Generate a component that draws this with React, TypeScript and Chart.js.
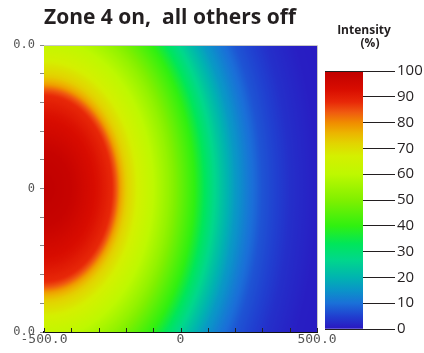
import React, { useEffect, useRef } from "react";
import { Chart, registerables } from "chart.js";

Chart.register(...registerables);

// ---------- text ----------
const chartTitle = "Zone 4 on,  all others off";
const colorbarTitle = ["Intensity", "(%)"];

// ---------- axes ----------
const xRange = [-500, 500];
const yRange = [-500, 500];
const gridValues = [-500, -400, -300, -200, -100, 0, 100, 200, 300, 400, 500];
const xTickValues = [-500, 0, 500];
const xTickText = ["-500.0", "0", "500.0"];
const yTickValues = [-500, 0, 500];
const yTickText = ["-500.0", "0", "500.0"];

// ---------- field: intensity vs distance from the source (zone 4) ----------
const sourceX = -500;
const sourceY = 0;
const profileDistance = [0, 100, 150, 200, 250, 265, 280, 300, 350, 400, 450, 500, 550, 600, 650, 700, 750, 800, 900, 1000, 1200];
const profileIntensity = [100, 98, 95, 92, 88, 84, 78, 73, 66, 60, 54, 47, 40, 31, 23, 16, 11, 7, 3, 1, 0];
const verticalSpread = 1.3; // the field reaches further along y than along x

// ---------- colour scale ----------
const colorbarTicks = [0, 10, 20, 30, 40, 50, 60, 70, 80, 90, 100];
const colormapValues = [0, 5, 10, 15, 20, 27, 33, 40, 50, 60, 67, 72, 76, 80, 84, 88, 93, 100];
const colormapColors = [
  "#2a16c0", "#2040d0", "#1a70d8", "#0a94c8", "#00b4b0", "#00d88a", "#00e65a", "#30f010", "#80f000",
  "#bef800", "#d4f000", "#e2d400", "#ecb400", "#f08c00", "#f05a10", "#e82808", "#d80c00", "#c00000",
];

function hexToRgb(h: string) {
  const n = parseInt(h.slice(1), 16);
  return [(n >> 16) & 255, (n >> 8) & 255, n & 255];
}
function colormap(v: number) {
  const vals = colormapValues;
  if (v <= vals[0]) return colormapColors[0];
  if (v >= vals[vals.length - 1]) return colormapColors[vals.length - 1];
  let i = 0;
  while (v > vals[i + 1]) i++;
  const t = (v - vals[i]) / (vals[i + 1] - vals[i]);
  const a = hexToRgb(colormapColors[i]);
  const b = hexToRgb(colormapColors[i + 1]);
  const c = a.map((x, k) => Math.round(x + (b[k] - x) * t));
  return `rgb(${c[0]},${c[1]},${c[2]})`;
}
function profileAt(d: number) {
  const ds = profileDistance;
  if (d <= ds[0]) return profileIntensity[0];
  if (d >= ds[ds.length - 1]) return profileIntensity[ds.length - 1];
  let i = 0;
  while (d > ds[i + 1]) i++;
  const t = (d - ds[i]) / (ds[i + 1] - ds[i]);
  return profileIntensity[i] + (profileIntensity[i + 1] - profileIntensity[i]) * t;
}

const TICK_FONT = "'DejaVu Sans Mono', monospace";
const TEXT_FONT = "'Open Sans', 'Noto Sans', sans-serif";
const INK = "#231f20";

const heatmapPlugin = {
  id: "heatmap",
  beforeDatasetsDraw(chart: any) {
    const { ctx, chartArea: a } = chart;
    const x = chart.scales.x;
    const y = chart.scales.y;
    const cx = x.getPixelForValue(sourceX);
    const cy = y.getPixelForValue(sourceY);
    const maxD = profileDistance[profileDistance.length - 1];
    const R = x.getPixelForValue(sourceX + maxD) - cx;
    const pxPerX = (x.getPixelForValue(sourceX + 100) - cx) / 100;
    const pxPerY = (cy - y.getPixelForValue(sourceY + 100)) / 100;
    const k = (verticalSpread * pxPerY) / pxPerX;
    ctx.save();
    ctx.beginPath();
    ctx.rect(a.left, a.top, a.right - a.left, a.bottom - a.top);
    ctx.clip();
    ctx.translate(cx, cy);
    ctx.scale(1, k);
    const g = ctx.createRadialGradient(0, 0, 0, 0, 0, R);
    const steps = 300;
    for (let i = 0; i <= steps; i++) {
      g.addColorStop(i / steps, colormap(profileAt((maxD * i) / steps)));
    }
    ctx.fillStyle = g;
    ctx.fillRect(a.left - cx, (a.top - cy) / k, a.right - a.left, (a.bottom - a.top) / k);
    ctx.restore();
  },
  afterDraw(chart: any) {
    const { ctx, chartArea: a } = chart;
    const x = chart.scales.x;
    ctx.save();
    ctx.strokeStyle = "#c8c8c8";
    ctx.lineWidth = 1;
    ctx.beginPath();
    ctx.moveTo(a.left, a.top + 0.5);
    ctx.lineTo(a.right + 0.5, a.top + 0.5);
    ctx.lineTo(a.right + 0.5, a.bottom);
    ctx.stroke();
    ctx.strokeStyle = "#222";
    ctx.beginPath();
    for (const v of gridValues) {
      const px = Math.round(x.getPixelForValue(v)) + 0.5;
      ctx.moveTo(px, a.bottom);
      ctx.lineTo(px, a.bottom - 4);
    }
    ctx.stroke();
    ctx.restore();
  },
};

const colorbarTitlePlugin = {
  id: "colorbarTitle",
  afterDraw(chart: any) {
    const { ctx, chartArea: a } = chart;
    ctx.save();
    ctx.fillStyle = INK;
    ctx.font = `bold 12px ${TEXT_FONT}`;
    ctx.textAlign = "center";
    ctx.textBaseline = "middle";
    ctx.fillText(colorbarTitle[0], a.right + 1, a.top - 40);
    ctx.fillText(colorbarTitle[1], a.right + 7, a.top - 27);
    ctx.restore();
  },
};

export default function App() {
  const mainRef = useRef<HTMLCanvasElement>(null);
  const barRef = useRef<HTMLCanvasElement>(null);

  useEffect(() => {
    const main = new Chart(mainRef.current as HTMLCanvasElement, {
      type: "scatter",
      data: { datasets: [] },
      options: {
        animation: false,
        responsive: false,
        layout: { padding: { left: 0, right: 23, top: 0, bottom: 0 } },
        plugins: {
          legend: { display: false },
          tooltip: { enabled: false },
          title: {
            display: true,
            text: chartTitle,
            align: "start",
            fullSize: false,
            color: INK,
            font: { family: TEXT_FONT, size: 21, weight: "bold", lineHeight: 1.2 },
            padding: { top: 5.5, bottom: 14.3 },
          },
        },
        scales: {
          x: {
            type: "linear",
            min: xRange[0],
            max: xRange[1],
            afterFit: (s: any) => {
              s.height = 21;
            },
            afterBuildTicks: (s: any) => {
              s.ticks = gridValues.map((v) => ({ value: v }));
            },
            ticks: {
              autoSkip: false,
              maxRotation: 0,
              padding: 0,
              color: "#555",
              font: { family: TICK_FONT, size: 13 },
              callback: (v: any) => {
                const i = xTickValues.indexOf(Number(v));
                return i >= 0 ? xTickText[i] : "";
              },
            },
            grid: { display: false, drawTicks: false },
            border: { display: true, color: "#111", width: 2 },
          },
          y: {
            type: "linear",
            min: yRange[0],
            max: yRange[1],
            afterFit: (s: any) => {
              s.width = 31;
            },
            afterBuildTicks: (s: any) => {
              s.ticks = gridValues.map((v) => ({ value: v }));
            },
            ticks: {
              autoSkip: false,
              padding: 5,
              color: "#555",
              font: { family: TICK_FONT, size: 12 },
              callback: (v: any) => {
                const i = yTickValues.indexOf(Number(v));
                return i >= 0 ? yTickText[i] : "";
              },
            },
            grid: { drawOnChartArea: false, drawTicks: true, tickLength: 4, color: "#888" },
            border: { display: true, color: "#444", width: 1 },
          },
        },
      },
      plugins: [heatmapPlugin],
    } as any);

    const first = colorbarTicks[0];
    const last = colorbarTicks[colorbarTicks.length - 1];
    const bar = new Chart(barRef.current as HTMLCanvasElement, {
      type: "bar",
      data: {
        labels: [colorbarTitle[0]],
        datasets: [
          {
            data: [[first, last]],
            backgroundColor: (c: any) => {
              const chart = c.chart;
              if (!chart.chartArea) return "#000";
              const ys = chart.scales.y;
              const g = chart.ctx.createLinearGradient(0, ys.getPixelForValue(first), 0, ys.getPixelForValue(last));
              colormapValues.forEach((v, i) => g.addColorStop((v - first) / (last - first), colormapColors[i]));
              return g;
            },
            borderWidth: 0,
            barPercentage: 1,
            categoryPercentage: 1,
          },
        ],
      },
      options: {
        animation: false,
        responsive: false,
        layout: { padding: { left: 7, right: 0, top: 71, bottom: 24 } },
        plugins: { legend: { display: false }, tooltip: { enabled: false } },
        scales: {
          x: { display: false },
          y: {
            position: "right",
            min: first,
            max: last,
            afterFit: (s: any) => {
              s.width = 61;
            },
            afterBuildTicks: (s: any) => {
              s.ticks = colorbarTicks.map((v) => ({ value: v }));
            },
            ticks: { padding: 2, color: INK, font: { family: TEXT_FONT, size: 15 } },
            grid: {
              z: 1,
              drawOnChartArea: true,
              color: (c: any) =>
                c.tick && (c.tick.value === first || c.tick.value === last) ? INK : "rgba(0,0,0,0)",
              tickColor: INK,
              tickLength: 32,
              lineWidth: 1,
            },
            border: { display: false },
          },
        },
      },
      plugins: [colorbarTitlePlugin],
    } as any);

    return () => {
      main.destroy();
      bar.destroy();
    };
  }, []);

  return (
    <div style={{ position: "absolute", left: 0, top: 0, width: 424, height: 353, overflow: "hidden", background: "#fff" }}>
      <canvas ref={mainRef} width={327} height={353} style={{ position: "absolute", left: 13, top: 0 }} />
      <canvas ref={barRef} width={106} height={353} style={{ position: "absolute", left: 318, top: 0 }} />
    </div>
  );
}
